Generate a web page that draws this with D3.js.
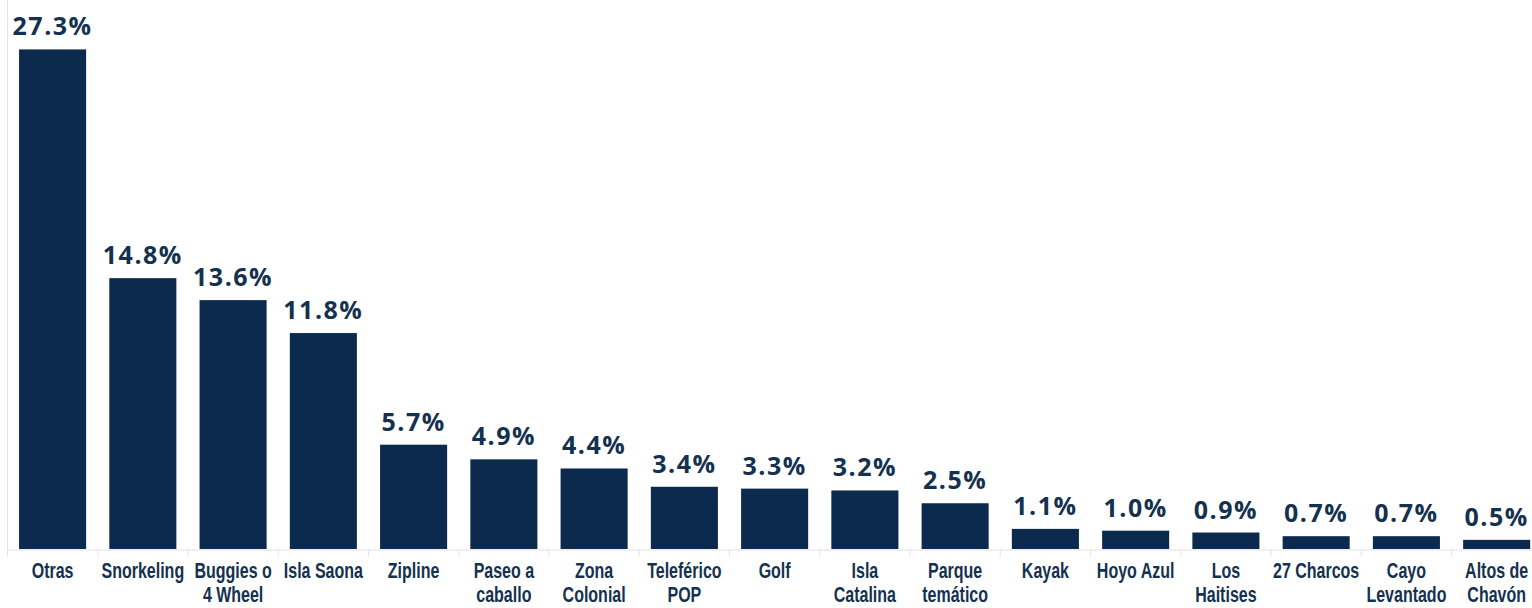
<html>
<head>
<script src="https://d3js.org/d3.v7.min.js"></script>
<style>
  body { margin: 0; background: #fff; }
</style>
</head>
<body>
<svg id="chart"></svg>
<script>
    // data
    var categories = ["Otras", "Snorkeling", "Buggies o|4 Wheel", "Isla Saona", "Zipline", "Paseo a|caballo",
        "Zona|Colonial", "Teleférico|POP", "Golf", "Isla|Catalina", "Parque|temático", "Kayak", "Hoyo Azul",
        "Los|Haitises", "27 Charcos", "Cayo|Levantado", "Altos de|Chavón"];
    var values = [27.3, 14.8, 13.6, 11.8, 5.7, 4.9, 4.4, 3.4, 3.3, 3.2, 2.5, 1.1, 1.0, 0.9, 0.7, 0.7, 0.5];

    var data = categories.map(function (c, i) { return {name: c, value: values[i]}; });

    var W = 1532, H = 608;
    var svg = d3.select("#chart").attr("width", W).attr("height", H);

    var x0 = 7.5, step = 90.25;
    var x = d3.scaleBand()
        .domain(categories)
        .range([x0, x0 + step * categories.length])
        .paddingInner(0.257)
        .paddingOuter(0.128);
    var y = d3.scaleLinear().domain([0, 30]).range([549, 0]);

    var navy = "#0c2a4e";

    // left axis line
    svg.append("line")
        .attr("x1", x0).attr("x2", x0)
        .attr("y1", 0).attr("y2", y(0))
        .attr("stroke", "#e4e4e4").attr("stroke-width", 1);

    // bars
    svg.selectAll("rect.bar").data(data).enter().append("rect")
        .attr("class", "bar")
        .attr("x", function (d) { return x(d.name); })
        .attr("y", function (d) { return y(d.value); })
        .attr("width", x.bandwidth())
        .attr("height", function (d) { return y(0) - y(d.value); })
        .attr("fill", navy);

    // bottom axis with separators
    var xAxis = d3.axisBottom(x).tickSize(0).tickFormat("");
    var gx = svg.append("g").attr("transform", "translate(0," + (y(0) + 0.5) + ")").call(xAxis);
    gx.select(".domain").attr("stroke", "#e0e0e0");
    gx.selectAll(".sep").data(d3.range(categories.length + 1)).enter().append("line")
        .attr("x1", function (i) { return x0 + i * step; })
        .attr("x2", function (i) { return x0 + i * step; })
        .attr("y1", 0).attr("y2", 7)
        .attr("stroke", "#e4e4e4");

    // value labels
    svg.selectAll("text.val").data(data).enter().append("text")
        .attr("class", "val")
        .attr("x", function (d) { return x(d.name) + x.bandwidth() / 2; })
        .attr("y", function (d) { return y(d.value) - 14; })
        .attr("text-anchor", "middle")
        .attr("font-family", "'Open Sans', sans-serif")
        .attr("font-weight", "bold")
        .attr("font-size", 25)
        .attr("letter-spacing", 1.5)
        .attr("fill", "#14314f")
        .text(function (d) { return d.value.toFixed(1) + "%"; });

    // category labels (tall condensed look)
    var labels = svg.selectAll("text.cat").data(data).enter().append("text")
        .attr("class", "cat")
        .attr("transform", function (d) {
            return "translate(" + (x(d.name) + x.bandwidth() / 2) + ",578) scale(1,1.4)";
        })
        .attr("text-anchor", "middle")
        .attr("font-family", "'Liberation Sans Narrow', sans-serif")
        .attr("font-weight", "bold")
        .attr("font-size", 16)
        .attr("fill", "#14314f");
    labels.selectAll("tspan").data(function (d) { return d.name.split("|"); }).enter().append("tspan")
        .attr("x", 0)
        .attr("y", function (t, i) { return i * 17.2; })
        .text(function (t) { return t; });
</script>
</body>
</html>
